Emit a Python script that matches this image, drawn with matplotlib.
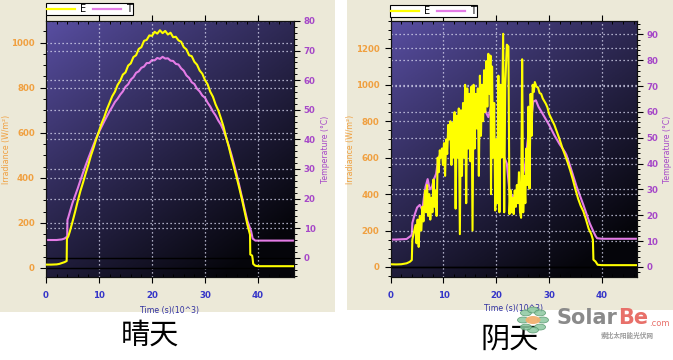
import numpy as np
import matplotlib
matplotlib.use("Agg")
import matplotlib.pyplot as plt
from matplotlib.lines import Line2D
from matplotlib.patches import Rectangle, Circle
from matplotlib.ticker import MultipleLocator

# ---------------- data: sunny day (晴天) ----------------
sunny_t = [0, 1, 2, 2.5, 3, 3.5, 3.9, 3.95, 4.2, 4.5, 5, 5.5, 6, 6.5, 7, 7.5, 8, 8.5, 9, 9.5,
           10, 10.5, 11, 11.5, 12, 12.5, 13, 13.5, 14, 14.5, 15, 15.5, 16, 16.5, 17, 17.5,
           18, 18.5, 19, 19.5, 20, 20.5, 21, 21.5, 22, 22.5, 23, 23.5, 24, 24.5, 25, 25.5,
           26, 26.5, 27, 27.5, 28, 28.5, 29, 29.5, 30, 30.5, 31, 31.5, 32, 32.5, 33, 33.5,
           34, 34.5, 35, 35.5, 36, 36.5, 37, 37.5, 38, 38.5, 38.55, 38.9, 39.0, 39.1, 39.5,
           40, 42, 44, 46, 47]
sunny_E = [15, 15, 16, 18, 22, 26, 31, 130, 140, 162, 205, 250, 298, 342, 380, 421, 459, 500, 535, 574,
           607, 642, 670, 705, 733, 762, 782, 812, 830, 858, 868, 898, 908, 936, 944, 972,
           980, 1008, 1012, 1032, 1030, 1048, 1040, 1055, 1042, 1052, 1036, 1044, 1024, 1026, 1010, 1004,
           980, 970, 944, 940, 915, 902, 876, 862, 834, 815, 782, 760, 726, 700, 665, 627,
           580, 537, 489, 445, 400, 352, 302, 248, 193, 148, 60, 55, 40, 18, 10,
           8, 8, 8, 8, 8]
sunny_T_t = [0, 1, 2, 3, 3.5, 3.8, 4.0, 4.05, 4.2, 4.5, 5, 5.5, 6, 6.5, 7, 7.5, 8, 8.5, 9, 9.5,
             10, 10.5, 11, 11.5, 12, 12.5, 13, 13.5, 14, 14.5, 15, 15.5, 16, 16.5, 17, 17.5,
             18, 18.5, 19, 19.5, 20, 20.5, 21, 21.5, 22, 22.5, 23, 23.5, 24, 24.5, 25, 25.5,
             26, 26.5, 27, 27.5, 28, 28.5, 29, 29.5, 30, 30.5, 31, 31.5, 32, 32.5, 33, 33.5,
             34, 34.5, 35, 35.5, 36, 36.5, 37, 37.5, 38, 38.5, 38.7, 39.0, 39.5, 40, 42, 44, 46, 47]
sunny_T = [6.0, 6.0, 6.0, 6.2, 6.5, 6.9, 7.2, 12.8, 13.6, 15.5, 18.5, 21.0, 23.5, 26.2, 28.8, 31.3, 33.7, 36.0, 38.3, 40.5,
           42.5, 44.3, 46.1, 47.8, 49.5, 51.0, 52.6, 53.7, 55.1, 56.2, 57.8, 58.6, 60.2, 61.0, 62.5, 63.0,
           64.2, 64.6, 65.8, 65.8, 66.8, 66.7, 67.5, 67.2, 67.9, 67.3, 67.4, 66.6, 66.5, 65.5, 65.3, 64.0,
           63.2, 61.6, 60.8, 59.3, 58.7, 57.1, 56.2, 54.8, 54.1, 52.4, 51.1, 49.4, 48.1, 46.4, 45.0, 43.0,
           40.6, 37.8, 34.8, 31.5, 28.0, 24.2, 20.3, 16.3, 12.5, 10.0, 9.0, 6.5, 5.8, 5.8, 5.8, 5.8, 5.8, 5.8]

# ---------------- data: cloudy day (阴天) ----------------
cloudy_t = [0, 1, 2, 3, 3.6, 4.0, 4.1, 4.4, 4.7, 4.9, 5.1, 5.3, 5.5, 5.8, 6.0, 6.2, 6.5, 6.7, 6.9, 7.1,
            7.3, 7.5, 7.7, 7.9, 8.1, 8.3, 8.5, 8.7, 8.9, 9.1, 9.3, 9.5, 9.7, 9.9, 10.1, 10.3, 10.5, 10.7,
            10.9, 11.1, 11.3, 11.5, 11.7, 11.9, 12.1, 12.3, 12.5, 12.7, 12.9, 13.1, 13.3, 13.5, 13.7, 13.9,
            14.1, 14.3, 14.5, 14.7, 14.9, 15.1, 15.3, 15.5, 15.7, 15.9, 16.1, 16.3, 16.5, 16.7, 16.9, 17.1,
            17.3, 17.5, 17.7, 17.9, 18.1, 18.3, 18.5, 18.7, 18.9, 19.0, 19.2, 19.4, 19.6, 19.8, 20.0, 20.2,
            20.4, 20.6, 20.8, 21.0, 21.3, 21.5, 21.7, 22.0, 22.3, 22.5, 22.7, 22.9, 23.1, 23.3, 23.5, 23.7,
            23.9, 24.1, 24.3, 24.5, 24.7, 24.9, 25.1, 25.3, 25.5, 25.7, 25.9, 26.1, 26.3, 26.5, 26.7, 26.9,
            27.1, 27.3, 27.6, 27.9, 28.2, 28.5, 28.8, 29.1, 29.4, 29.7, 30.0, 30.5, 31.0, 31.5, 32.0, 32.5,
            33.0, 33.5, 34.0, 34.5, 35.0, 35.5, 36.0, 36.5, 37.0, 37.5, 38.0, 38.3, 38.4, 38.8, 39.2, 40,
            43, 47]
cloudy_E = [15, 14, 15, 20, 28, 38, 150, 190, 230, 130, 260, 110, 280, 200, 330, 250, 420, 300, 450, 280,
            400, 260, 380, 300, 480, 330, 420, 280, 600, 520, 640, 600, 650, 560, 680, 500, 700, 620,
            780, 700, 800, 560, 790, 600, 850, 320, 830, 600, 870, 180, 860, 500, 900, 600,
            1000, 350, 980, 650, 950, 580, 990, 200, 1000, 650, 950, 760, 980, 500, 1050, 720,
            1000, 800, 1080, 850, 1130, 880, 1170, 950, 1160, 400, 1100, 600, 900, 310, 700, 350,
            1050, 300, 1000, 600, 1280, 300, 1000, 1220, 1210, 290, 420, 300, 380, 290, 420, 330,
            450, 350, 520, 300, 270, 1140, 300, 500, 350, 650, 450, 880, 430, 950, 720, 1000,
            960, 1015, 990, 985, 955, 950, 925, 910, 895, 875, 840, 810, 780, 740, 700, 655,
            615, 575, 530, 480, 425, 375, 335, 305, 260, 210, 180, 150, 40, 30, 12, 10,
            10, 10]
cloudy_T_t = [0, 1, 2, 3, 3.8, 4.0, 4.1, 4.5, 5.0, 5.5, 6.0, 6.3, 6.6, 7.0, 7.4, 7.8, 8.2, 8.6, 9.0, 9.5,
              10, 11, 12, 13, 14, 15, 16, 17, 18, 18.5, 19, 19.5, 20, 21, 22, 22.5, 23, 23.5, 24, 24.5,
              25, 25.5, 26, 26.5, 27, 27.5, 28, 29, 30, 31, 32, 33, 33.3, 34, 35.2, 36.5, 37.7, 38.4,
              38.8, 39.1, 40, 43, 47]
cloudy_T = [10.6, 10.6, 10.7, 10.8, 12.0, 12.5, 17.0, 20.0, 23.0, 24.0, 22.0, 27.0, 31.0, 34.0, 30.0, 31.0, 34.0, 36.0, 42.0, 44.0,
            46.0, 50.0, 53.0, 55.0, 58.0, 60.0, 62.0, 62.0, 60.0, 58.0, 62.0, 50.0, 40.0, 45.0, 40.0, 29.0, 27.0, 28.0, 30.0, 28.0,
            35.0, 40.0, 50.0, 55.0, 64.0, 64.5, 62.0, 58.5, 55.0, 51.0, 47.5, 44.5, 43.3, 39.0, 31.2, 24.0, 16.9, 13.7,
            12.0, 11.1, 10.9, 10.9, 10.9]

E_ticks_sunny = [0, 200, 400, 600, 800, 1000]
T_ticks_sunny = [0, 10, 20, 30, 40, 50, 60, 70, 80]
E_ticks_cloudy = [0, 200, 400, 600, 800, 1000, 1200]
T_ticks_cloudy = [0, 10, 20, 30, 40, 50, 60, 70, 80, 90]
x_ticks = [0, 10, 20, 30, 40]

BEIGE = "#ECE9D8"
ORANGE = "#F0A040"
PURPLE = "#A648C8"
BLUE = "#3535C8"
YELLOW = "#FFFF00"
PINK = "#E47CE6"

W, H = 673, 360
fig = plt.figure(figsize=(W / 100, H / 100), dpi=100)
fig.patch.set_facecolor("white")

# beige panels
fig.patches.append(Rectangle((0, 1 - 312 / H), 335 / W, 312 / H, transform=fig.transFigure,
                             facecolor=BEIGE, edgecolor="none", zorder=-10))
fig.patches.append(Rectangle((347 / W, 1 - 310 / H), (W - 347) / W, 310 / H, transform=fig.transFigure,
                             facecolor=BEIGE, edgecolor="none", zorder=-10))

# gradient image
ny, nx = 100, 100
u = np.linspace(0, 1, nx)[None, :]
v = np.linspace(0, 1, ny)[:, None]
s = np.clip((u * 0.55 + v * 0.75) / 1.15, 0, 1) ** 0.9
c0 = np.array([0.35, 0.31, 0.64])
c1 = np.array([0.02, 0.02, 0.04])
grad = c0[None, None, :] * (1 - s[..., None]) + c1[None, None, :] * s[..., None]

FS = 6.2


def make_panel(rect, t_E, E, t_T, T, ylimE, ylimT, Eticks, Tticks, xlim, legend_xy,
               ylab_x, tlab_x, xlab_y):
    bg = fig.add_axes(rect, zorder=0)
    bg.imshow(grad, extent=[0, 1, 0, 1], aspect="auto", transform=bg.transAxes, origin="upper")
    bg.set_axis_off()

    ax = fig.add_axes(rect, zorder=3)
    ax.patch.set_visible(False)
    tw = ax.twinx()
    tw.set_zorder(2)
    tw.patch.set_visible(False)
    ax.set_zorder(3)

    gridkw = dict(color="#d8d8f0", linestyle=(0, (1, 2.2)), linewidth=0.9)
    for yv in Tticks[1:]:
        tw.axhline(yv, zorder=1, **gridkw)
    for yv in Eticks[1:]:
        ax.axhline(yv, zorder=1, **gridkw)
    for xv in x_ticks[1:]:
        ax.axvline(xv, zorder=1, **gridkw)
    tw.axhline(0, color="black", lw=1.0, zorder=1.5)
    ax.axhline(0, color="black", lw=1.0, zorder=1.5)

    tw.plot(t_T, T, color=PINK, lw=1.5, zorder=2)
    ax.plot(t_E, E, color=YELLOW, lw=1.5, zorder=3)

    ax.set_xlim(*xlim)
    ax.set_ylim(*ylimE)
    tw.set_ylim(*ylimT)
    ax.set_xticks(x_ticks)
    ax.set_yticks(Eticks)
    tw.set_yticks(Tticks)
    ax.xaxis.set_minor_locator(MultipleLocator(2))
    ax.yaxis.set_minor_locator(MultipleLocator(50))
    tw.yaxis.set_minor_locator(MultipleLocator(2))

    ax.tick_params(axis="x", which="major", direction="out", length=4, width=0.8,
                   labelsize=FS, labelcolor=BLUE, pad=6, top=True)
    ax.tick_params(axis="x", which="minor", direction="in", length=2.5, width=0.7, top=True)
    ax.tick_params(axis="y", which="major", direction="out", length=4, width=0.8,
                   labelsize=FS, labelcolor=ORANGE, pad=4)
    ax.tick_params(axis="y", which="minor", direction="out", length=2, width=0.7)
    tw.tick_params(axis="y", which="major", direction="out", length=4, width=0.8,
                   labelsize=FS, labelcolor=PURPLE, pad=3)
    tw.tick_params(axis="y", which="minor", direction="out", length=2, width=0.7)
    for lab in ax.get_xticklabels() + ax.get_yticklabels() + tw.get_yticklabels():
        lab.set_fontweight("bold")
    for sp in list(ax.spines.values()) + list(tw.spines.values()):
        sp.set_color("#111111")
        sp.set_linewidth(0.8)

    ax.set_xlabel("Time (s)(10^3)", fontsize=5.6, color="#3030A0")
    ax.set_ylabel("Irradiance (W/m²)", fontsize=5.6, color=ORANGE)
    tw.set_ylabel("Temperature (°C)", fontsize=5.6, color=PURPLE)
    ax.xaxis.set_label_coords(0.5, xlab_y)
    ax.yaxis.set_label_coords(ylab_x, 0.5)
    tw.yaxis.set_label_coords(tlab_x, 0.5)

    handles = [Line2D([], [], color=YELLOW, lw=1.6), Line2D([], [], color=PINK, lw=1.6)]
    leg = fig.legend(handles, ["E", "T"], loc="upper left", bbox_to_anchor=legend_xy,
                     ncol=2, frameon=True, fancybox=False, fontsize=7, borderpad=0.12,
                     handlelength=2.9, handletextpad=0.5, columnspacing=0.7,
                     handleheight=0.45, borderaxespad=0, framealpha=1)
    leg.get_frame().set_edgecolor("black")
    leg.get_frame().set_linewidth(0.8)
    return ax, tw


top_px, bot_px = 21, 277
rect_l = [46 / W, 1 - bot_px / H, 248 / W, (bot_px - top_px) / H]
rect_r = [390.7 / W, 1 - bot_px / H, 246 / W, (bot_px - top_px) / H]

make_panel(rect_l, sunny_t, sunny_E, sunny_T_t, sunny_T, (-40, 1096), (-6.5, 80),
           E_ticks_sunny, T_ticks_sunny, (0, 46.8), (46 / W, 1 - 3 / H),
           (11 - 46) / 248, (321 - 46) / 248, (277 - 306) / 256)
make_panel(rect_r, cloudy_t, cloudy_E, cloudy_T_t, cloudy_T, (-55, 1350), (-3.9, 95.2),
           E_ticks_cloudy, T_ticks_cloudy, (0, 46.6), (390 / W, 1 - 5 / H),
           (355 - 390.7) / 246, (663 - 390.7) / 246, (277 - 304) / 256)

cjk = ["Noto Sans CJK SC", "DejaVu Sans"]
fig.text(150 / W, 1 - 336 / H, "晴天", fontsize=21, family=cjk, weight="light",
         ha="center", va="center", color="black")
fig.text(510 / W, 1 - 340 / H, "阴天", fontsize=21, family=cjk, weight="light",
         ha="center", va="center", color="black")

# SolarBe watermark
cx, cy = 533, 320
for k in range(8):
    ang = 2 * np.pi * k / 8
    fig.patches.append(Circle(((cx + 10 * np.cos(ang)) / W, 1 - (cy + 10 * np.sin(ang)) / H),
                              5.5 / W, transform=fig.transFigure, facecolor="#8cc8a0",
                              edgecolor="#5a9a70", lw=0.6, alpha=0.85, zorder=5))
fig.patches.append(Circle((cx / W, 1 - cy / H), 7.5 / W, transform=fig.transFigure,
                          facecolor="#f2b070", edgecolor="none", alpha=0.95, zorder=6))
renderer = fig.canvas.get_renderer()
t1 = fig.text(557 / W, 1 - 318 / H, "Solar", fontsize=15, color="#8a8a8a", weight="bold",
              ha="left", va="center", family="DejaVu Sans", zorder=7)
bb = t1.get_window_extent(renderer)
t2 = fig.text(bb.x1 / W + 0.001, 1 - 318 / H, "Be", fontsize=15, color="#e8706a", weight="bold",
              ha="left", va="center", family="DejaVu Sans", zorder=7)
bb2 = t2.get_window_extent(renderer)
fig.text(bb2.x1 / W + 0.001, 1 - 323 / H, ".com", fontsize=6, color="#e8706a",
         ha="left", va="center", family="DejaVu Sans", zorder=7)
fig.text(627 / W, 1 - 335 / H, "索比太阳能光伏网", fontsize=4.8, color="#9a9a9a", weight="bold",
         ha="center", va="center", family=cjk, zorder=7)

fig.savefig("out.png", dpi=100, facecolor="white")
